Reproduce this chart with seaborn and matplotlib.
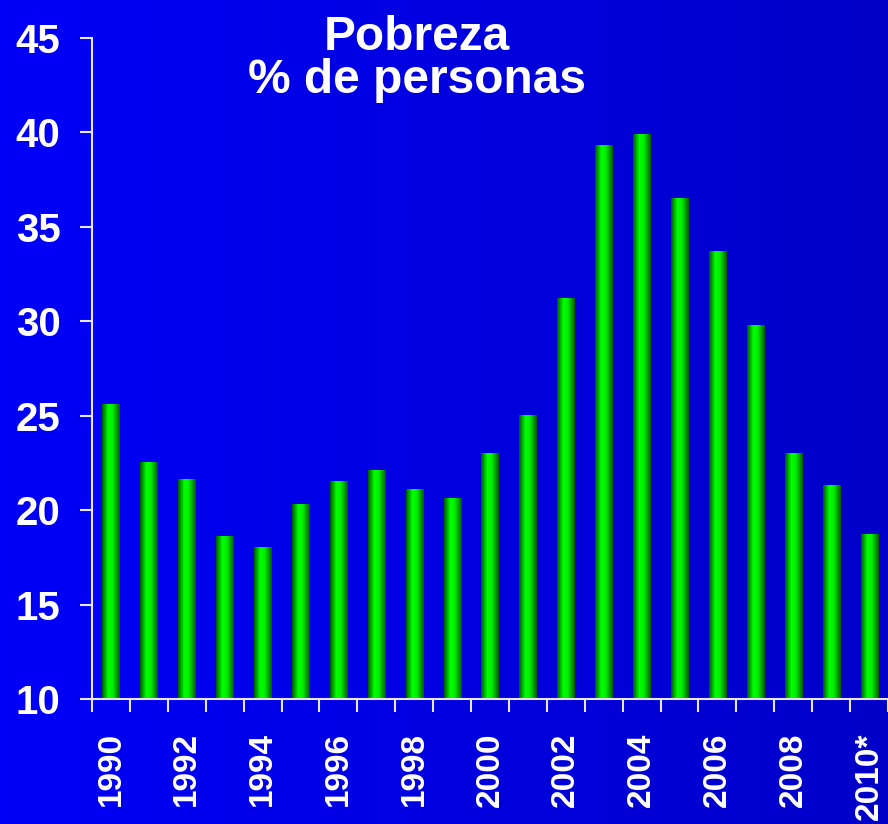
import numpy as np
import matplotlib
matplotlib.use('Agg')
import matplotlib.pyplot as plt
import seaborn as sns
from matplotlib.colors import LinearSegmentedColormap

# datos: pobreza, % de personas
years = [str(y) for y in range(1990, 2011)]
pobreza = [25.6, 22.5, 21.6, 18.6, 18.0, 20.3, 21.5, 22.1, 21.1, 20.6, 23.0,
           25.0, 31.2, 39.3, 39.9, 36.5, 33.7, 29.8, 23.0, 21.3, 18.7]
tick_labels = ['1990', '1992', '1994', '1996', '1998', '2000',
               '2002', '2004', '2006', '2008', '2010*']
y_ticks = [10, 15, 20, 25, 30, 35, 40, 45]

sns.set_style('white')
plt.rcParams['font.family'] = ['Liberation Sans', 'DejaVu Sans']

fig = plt.figure(figsize=(8.88, 8.24), dpi=100)

# fondo azul degradado
bg = fig.add_axes([0, 0, 1, 1], zorder=0)
bg_cmap = LinearSegmentedColormap.from_list('bg', ['#0000f8', '#0000c8'])
bg.imshow(np.linspace(0, 1, 256).reshape(1, -1), aspect='auto', cmap=bg_cmap,
          extent=[0, 1, 0, 1])
bg.axis('off')

ax = fig.add_axes([92 / 888, 1 - 699 / 824, 796 / 888, 661 / 824], zorder=1)
ax.patch.set_alpha(0)
sns.barplot(x=years, y=pobreza, color='#00dd00', width=0.45, ax=ax)

# barras con efecto cilindro
bar_cmap = LinearSegmentedColormap.from_list(
    'bar', [(0, '#005a00'), (0.35, '#00ff00'), (0.6, '#00f000'), (1, '#005c00')])
grad = np.linspace(0, 1, 64).reshape(1, -1)
for p in list(ax.patches):
    x0, w, h = p.get_x(), p.get_width(), p.get_height()
    ax.imshow(grad, aspect='auto', cmap=bar_cmap,
              extent=[x0, x0 + w, 10, h], zorder=3)
    p.set_visible(False)

ax.set_xlim(-0.5, -0.5 + 796 / 38.1)
ax.set_ylim(10, 45)
ax.set_xlabel('')
ax.set_ylabel('')

line_c = '#e6e6ff'
for s in ['top', 'right']:
    ax.spines[s].set_visible(False)
for s in ['left', 'bottom']:
    ax.spines[s].set_color(line_c)
    ax.spines[s].set_linewidth(1.5)
    ax.spines[s].set_zorder(4)

ax.set_yticks(y_ticks)
ax.set_yticklabels([str(v) for v in y_ticks], fontsize=29, fontweight='bold', color='white')
ax.tick_params(axis='y', direction='out', length=8.6, width=1.5, color=line_c, pad=14, left=True)

ax.set_xticks(range(0, 21, 2))
ax.set_xticklabels(tick_labels, rotation=90, fontsize=24, fontweight='bold', color='white')
ax.set_xticks(np.arange(-0.5, 21, 1), minor=True)
ax.tick_params(axis='x', which='major', length=0, pad=24)
ax.tick_params(axis='x', which='minor', direction='out', length=9, width=1.5,
               color=line_c, bottom=True)

fig.text(417 / 888, 1 - 50 / 824, 'Pobreza', ha='center', va='baseline',
         fontsize=34.5, fontweight='bold', color='white')
fig.text(417 / 888, 1 - 93 / 824, '% de personas', ha='center', va='baseline',
         fontsize=34.5, fontweight='bold', color='white')

fig.savefig('out.png', dpi=100)
